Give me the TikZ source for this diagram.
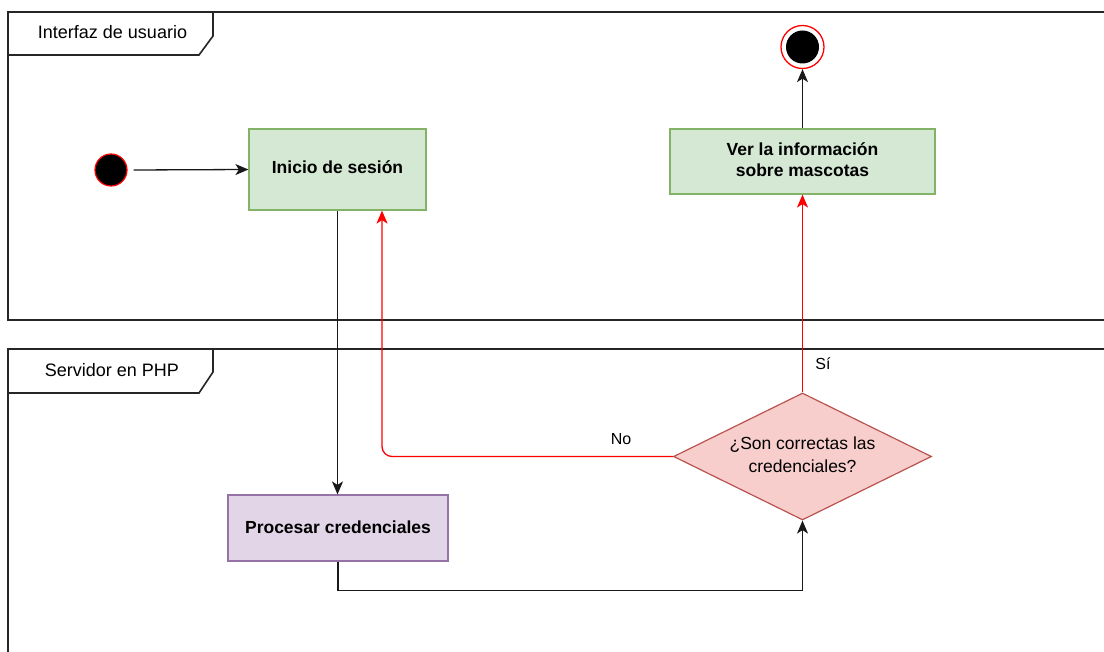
\documentclass[tikz,border=0pt]{standalone}
\usepackage{fontspec}
\setmainfont{Liberation Sans}
\usetikzlibrary{arrows.meta,shapes.geometric}
\definecolor{okfill}{HTML}{D5E8D4}
\definecolor{okline}{HTML}{82B366}
\definecolor{procfill}{HTML}{E1D5E7}
\definecolor{procline}{HTML}{9673A6}
\definecolor{askfill}{HTML}{F8CECC}
\definecolor{askline}{HTML}{B85450}
\definecolor{flowred}{HTML}{FF0000}
\tikzset{
  lane/.style={line width=1.6pt, draw=black!85},
  lanetitle/.style={font=\fontsize{18}{20}\selectfont, inner sep=0pt},
  uibox/.style={draw=okline, fill=okfill, line width=1.2pt, align=center,
    font=\bfseries\fontsize{17.5}{21}\selectfont, inner sep=0pt},
  procbox/.style={draw=procline, fill=procfill, line width=1.2pt, align=center,
    font=\bfseries\fontsize{17.5}{21}\selectfont, inner sep=0pt},
  askbox/.style={diamond, aspect=2, draw=askline, fill=askfill, line width=1.2pt,
    align=center, font=\fontsize{17.5}{23}\selectfont, inner sep=0pt,
    minimum width=258pt, minimum height=127pt},
  tip/.style={-{Stealth[length=13pt,width=11pt,inset=3.5pt]}},
  flow/.style={tip, line width=1.3pt, draw=black!90},
  redflow/.style={tip, line width=1.3pt, draw=flowred, color=flowred},
  guard/.style={font=\fontsize{16}{19}\selectfont, inner sep=0pt},
}
\begin{document}
\begin{tikzpicture}[x=1pt,y=-1pt]
\useasboundingbox (0,0) rectangle (1104,652);
\fill[white] (0,0) rectangle (1104,652);

% swimlane frames (open on the right and at the bottom)
\draw[lane] (1104,12) -- (8,12) -- (8,320) -- (1104,320);
\draw[lane] (8,55) -- (199,55) -- (213,36) -- (213,12);
\node[lanetitle] (uilane) at (112.5,32) {Interfaz de usuario};

\draw[lane] (1104,349) -- (8,349) -- (8,652);
\draw[lane] (8,393) -- (199,393) -- (213,372) -- (213,349);
\node[lanetitle] (phplane) at (112,370) {Servidor en PHP};

% activity nodes (text raised slightly inside each box)
\node[circle, fill=black, draw=flowred, line width=1.2pt, minimum size=32pt, inner sep=0pt] (start) at (111,170) {};
\node[uibox, minimum width=177pt, minimum height=81pt, text depth=4pt] (inicio) at (337.5,169.5) {Inicio de sesión};
\node[uibox, minimum width=265pt, minimum height=65pt] (ver) at (802.5,161.5) {Ver la información\\sobre mascotas\rule[-4pt]{0pt}{4pt}};
\node[circle, fill=white, draw=flowred, line width=1.3pt, minimum size=43pt, inner sep=0pt] (finish) at (802.5,47) {};
\fill[black] (finish.center) circle (16.5pt);
\node[procbox, minimum width=220pt, minimum height=66pt, text depth=2.5pt] (proc) at (338,528) {Procesar credenciales};
\node[askbox] (ask) at (802.5,456.5) {¿Son correctas las\\credenciales?\rule[-3.5pt]{0pt}{3.5pt}};

% control flow
\draw[flow] (start.east) ++(6,0) -- (inicio.west);
\draw[flow] (inicio.south) -- (inicio.south |- proc.north);
\draw[flow] (proc.south) -- ++(0,29) -| (ask.south);
\draw[redflow, rounded corners=10pt] (ask.west) -| ([xshift=44.5pt]inicio.south);
\draw[redflow] (ask.north) -- (ver.south);
\draw[flow] (ver.north) -- (finish.south);

% guards
\node[guard] (nolabel) at (621,439) {No};
\node[guard] (silabel) at (823,364) {Sí};
\end{tikzpicture}
\end{document}
